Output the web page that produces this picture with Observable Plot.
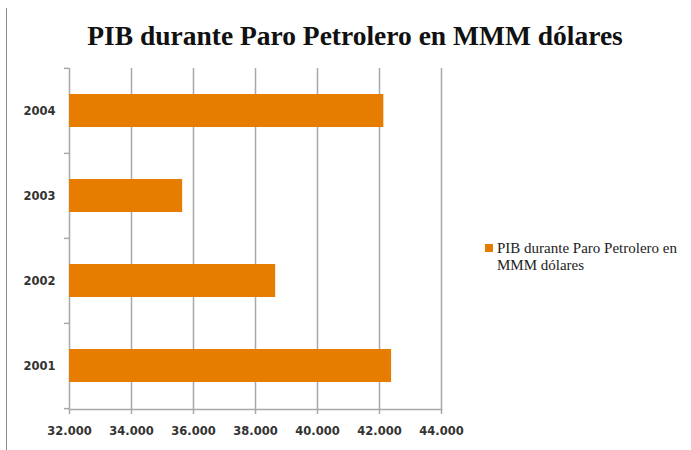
<!DOCTYPE html>
<html>
<head>
<meta charset="utf-8">
<script src="https://cdn.jsdelivr.net/npm/d3@7"></script>
<script src="https://cdn.jsdelivr.net/npm/@observablehq/plot@0.6"></script>
<style>
  html, body { margin: 0; padding: 0; background: #fff; }
  #wrap { position: relative; width: 691px; height: 450px; overflow: hidden; }
  #frameLine { position: absolute; left: 6px; top: 8px; width: 0; height: 442px; border-left: 1.5px solid #8a8a8a; }
  #title { position: absolute; left: 0; top: 20px; width: 710px; text-align: center;
    font-family: "Liberation Serif", serif; font-weight: bold; font-size: 27.5px; color: #111; }
  #legend { position: absolute; left: 483px; top: 240px; font-family: "Liberation Serif", serif;
    font-size: 15px; color: #222; line-height: 17px; }
  #legend .sw { position: absolute; left: 2px; top: 4px; width: 8px; height: 8px; background: #e67c00; }
  #legend .tx { margin-left: 14px; }
  #chart { position: absolute; left: 0; top: 0; }
</style>
</head>
<body>
<div id="wrap">
  <div id="frameLine"></div>
  <div id="chart"></div>
  <div id="title">PIB durante Paro Petrolero en MMM dólares</div>
  <div id="legend"><div class="sw"></div><div class="tx">PIB durante Paro Petrolero en<br>MMM dólares</div></div>
</div>
<script>
const years = ["2004", "2003", "2002", "2001"];
const pib = [42140, 35650, 38650, 42390];
const xTicks = [32000, 34000, 36000, 38000, 40000, 42000, 44000];
const seriesName = "PIB durante Paro Petrolero en MMM dólares";
const barColor = "#e67c00";

const data = years.map((y, i) => ({year: y, value: pib[i]}));
const fmt = d3.formatLocale({decimal: ",", thousands: ".", grouping: [3]}).format(",d");
const step = (450 - 68 - 41) / years.length;

const chart = Plot.plot({
  width: 691,
  height: 450,
  marginLeft: 69,
  marginRight: 250,
  marginTop: 68,
  marginBottom: 41,
  style: {fontFamily: "'DejaVu Sans', sans-serif", fontSize: "11.5px", color: "#333", background: "transparent"},
  x: {domain: [32000, 44000], label: null},
  y: {domain: years, paddingInner: 0.61, paddingOuter: 0.305, label: null},
  marks: [
    Plot.gridX(xTicks, {stroke: "#a8a8a8", strokeOpacity: 1, strokeWidth: 1.5}),
    Plot.barX(data, {x1: 32000, x2: "value", y: "year", fill: barColor}),
    Plot.ruleY(years, {y: d => d, x1: 32000, x2: 32000, insetLeft: -5, dy: -step / 2, stroke: "#a8a8a8", strokeWidth: 1.5}),
    Plot.ruleY([years[years.length - 1]], {y: d => d, x1: 32000, x2: 32000, insetLeft: -5, dy: step / 2, stroke: "#a8a8a8", strokeWidth: 1.5}),
    Plot.frame({anchor: "bottom", stroke: "#a8a8a8", strokeWidth: 1.5}),
    Plot.axisX(xTicks, {tickSize: 5, tickPadding: 12, stroke: "#a8a8a8", strokeWidth: 1.5, tickFormat: fmt, fontWeight: "bold", fill: "#333", label: null}),
    Plot.axisY({tickSize: 0, tickPadding: 14, fontWeight: "bold", fill: "#333", label: null})
  ]
});
document.getElementById("chart").appendChild(chart);
</script>
</body>
</html>
